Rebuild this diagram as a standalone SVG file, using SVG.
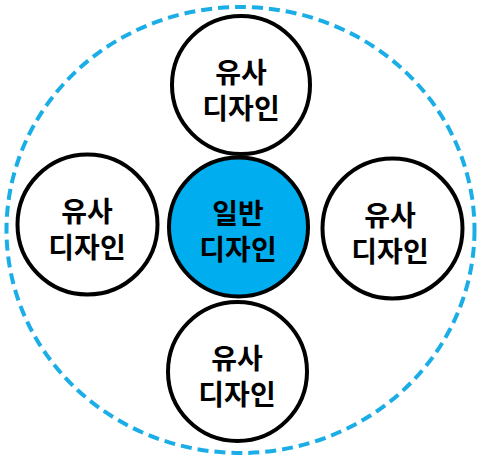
<svg xmlns="http://www.w3.org/2000/svg" width="488" height="461" viewBox="0 0 488 461">
<style>
.n{fill:#fff;stroke:#000;stroke-width:4}
.c{fill:#00AEEF;stroke:#000;stroke-width:4}
.t{font-family:"Liberation Sans","Noto Sans CJK KR",sans-serif;font-weight:bold;font-size:28px;fill:#000;text-anchor:middle}
</style>
<rect width="488" height="461" fill="#fff"/>
<g id="boundary">
<ellipse cx="240.5" cy="230" rx="234" ry="223" fill="none" stroke="#1BAEE6" stroke-width="4" stroke-dasharray="11 6"/>
</g>
<g id="connectors"></g>
<g id="top">
<circle class="n" cx="241" cy="85" r="69"/>
<text class="t" x="241" y="83">유사</text>
<text class="t" x="241" y="119">디자인</text>
</g>
<g id="left">
<circle class="n" cx="87.5" cy="224.5" r="70"/>
<text class="t" x="87" y="222">유사</text>
<text class="t" x="87" y="258">디자인</text>
</g>
<g id="center">
<circle class="c" cx="238.5" cy="227" r="69.5"/>
<text class="t" x="238" y="224">일반</text>
<text class="t" x="238" y="260">디자인</text>
</g>
<g id="right">
<circle class="n" cx="392.5" cy="228.5" r="70"/>
<text class="t" x="390" y="226">유사</text>
<text class="t" x="390" y="262">디자인</text>
</g>
<g id="bottom">
<circle class="n" cx="237.5" cy="371.5" r="69.5"/>
<text class="t" x="237" y="369">유사</text>
<text class="t" x="237" y="405">디자인</text>
</g>
</svg>
